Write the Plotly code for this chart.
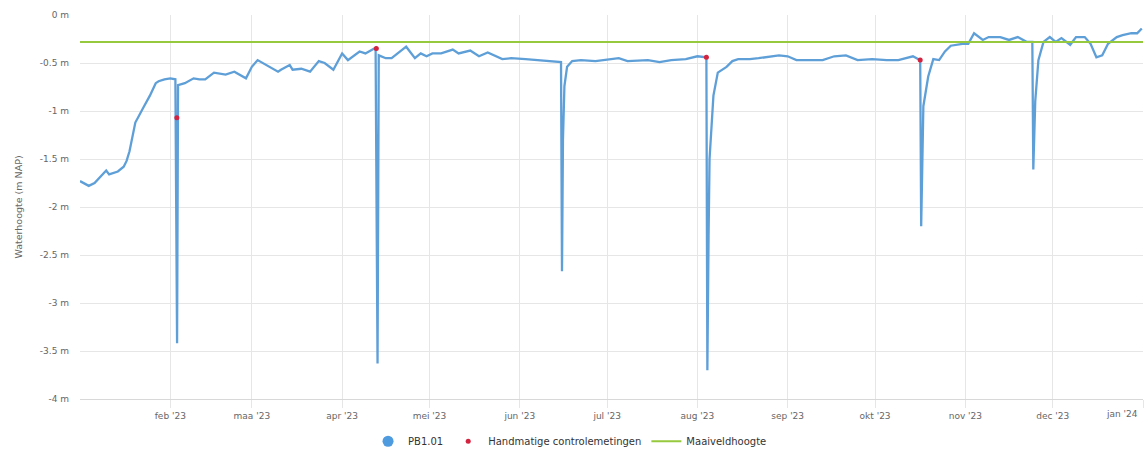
import plotly.graph_objects as go

# PB1.01 logger readings (timestamp, water level in m NAP)
pb_dates = [
    "2023-01-01", "2023-01-04", "2023-01-06", "2023-01-07", "2023-01-10", "2023-01-11",
    "2023-01-14", "2023-01-16", "2023-01-17", "2023-01-18", "2023-01-20", "2023-01-23",
    "2023-01-25", "2023-01-27", "2023-01-28", "2023-01-30", "2023-02-01", "2023-02-02 18:00",
    "2023-02-03 08:00", "2023-02-03 16:00", "2023-02-06", "2023-02-09", "2023-02-11", "2023-02-13",
    "2023-02-16", "2023-02-20", "2023-02-23", "2023-02-27", "2023-03-01", "2023-03-03",
    "2023-03-06", "2023-03-10", "2023-03-11", "2023-03-14", "2023-03-15", "2023-03-18",
    "2023-03-21", "2023-03-24", "2023-03-26", "2023-03-29", "2023-04-01", "2023-04-03",
    "2023-04-07", "2023-04-09", "2023-04-12 12:00", "2023-04-13 04:00", "2023-04-13 14:00", "2023-04-16",
    "2023-04-18", "2023-04-22", "2023-04-23", "2023-04-26", "2023-04-28", "2023-04-30",
    "2023-05-02", "2023-05-05", "2023-05-09", "2023-05-11", "2023-05-15", "2023-05-18",
    "2023-05-21", "2023-05-26", "2023-05-29", "2023-06-03", "2023-06-08", "2023-06-13",
    "2023-06-15 04:00", "2023-06-15 12:00", "2023-06-15 20:00", "2023-06-16 08:00", "2023-06-17 06:00", "2023-06-19",
    "2023-06-22", "2023-06-27", "2023-06-30", "2023-07-05", "2023-07-08", "2023-07-12",
    "2023-07-15", "2023-07-19", "2023-07-23", "2023-07-28", "2023-08-01", "2023-08-04 02:00",
    "2023-08-04 10:00", "2023-08-04 20:00", "2023-08-05 04:00", "2023-08-06 12:00", "2023-08-08", "2023-08-11",
    "2023-08-13", "2023-08-15", "2023-08-19", "2023-08-22", "2023-08-26", "2023-08-29",
    "2023-09-01", "2023-09-04", "2023-09-07", "2023-09-13", "2023-09-17", "2023-09-21",
    "2023-09-25", "2023-09-30", "2023-10-05", "2023-10-09", "2023-10-14", "2023-10-16 12:00",
    "2023-10-16 20:00", "2023-10-17 04:00", "2023-10-17 14:00", "2023-10-19 06:00", "2023-10-21", "2023-10-23",
    "2023-10-25", "2023-10-27", "2023-10-31", "2023-11-02", "2023-11-04", "2023-11-07",
    "2023-11-09", "2023-11-13", "2023-11-16", "2023-11-19", "2023-11-22", "2023-11-23",
    "2023-11-24 00:00", "2023-11-24 08:00", "2023-11-25 00:00", "2023-11-26 02:00", "2023-11-27 20:00", "2023-11-30",
    "2023-12-02", "2023-12-04", "2023-12-07", "2023-12-09", "2023-12-12", "2023-12-14",
    "2023-12-16", "2023-12-18", "2023-12-20", "2023-12-23", "2023-12-25", "2023-12-28",
    "2023-12-30", "2023-12-31 14:00",
]
pb_levels = [
    -1.73, -1.78, -1.75, -1.72, -1.62, -1.66,
    -1.63, -1.58, -1.52, -1.42, -1.12, -0.95,
    -0.84, -0.71, -0.69, -0.67, -0.66, -0.67,
    -3.42, -0.73, -0.71, -0.66, -0.67, -0.67,
    -0.60, -0.62, -0.59, -0.66, -0.54, -0.47,
    -0.52, -0.59, -0.57, -0.52, -0.57, -0.56,
    -0.59, -0.48, -0.50, -0.57, -0.40, -0.47,
    -0.38, -0.40, -0.34, -3.63, -0.42, -0.45,
    -0.45, -0.36, -0.33, -0.45, -0.40, -0.43,
    -0.40, -0.40, -0.36, -0.40, -0.37, -0.43,
    -0.39, -0.46, -0.45, -0.46, -0.47, -0.48,
    -0.49, -2.67, -1.30, -0.74, -0.54, -0.48,
    -0.47, -0.48, -0.47, -0.45, -0.48, -0.47,
    -0.47, -0.49, -0.47, -0.46, -0.43, -0.44,
    -3.70, -2.30, -1.50, -0.84, -0.60, -0.54,
    -0.48, -0.46, -0.46, -0.45, -0.43, -0.42,
    -0.43, -0.47, -0.47, -0.47, -0.43, -0.42,
    -0.47, -0.46, -0.47, -0.47, -0.43, -0.47,
    -2.20, -1.50, -0.95, -0.64, -0.46, -0.47,
    -0.38, -0.32, -0.30, -0.30, -0.19, -0.26,
    -0.23, -0.23, -0.26, -0.23, -0.28, -0.28,
    -0.28, -1.61, -0.90, -0.47, -0.28, -0.23,
    -0.28, -0.24, -0.31, -0.23, -0.23, -0.30,
    -0.44, -0.42, -0.30, -0.23, -0.21, -0.19,
    -0.19, -0.14,
]

# Manual control measurements
ctrl_dates = ["2023-02-03 06:00", "2023-04-12 18:00", "2023-08-04 02:00", "2023-10-16 12:00"]
ctrl_levels = [-1.07, -0.35, -0.44, -0.47]

# Ground level (maaiveld)
maaiveld_dates = ["2023-01-01", "2024-01-01"]
maaiveld_levels = [-0.28, -0.28]

# Axis ticks
month_ticks = ["2023-02-01", "2023-03-01", "2023-04-01", "2023-05-01", "2023-06-01", "2023-07-01",
               "2023-08-01", "2023-09-01", "2023-10-01", "2023-11-01", "2023-12-01", "2024-01-01"]
month_labels = ["feb '23", "maa '23", "apr '23", "mei '23", "jun '23", "jul '23",
                "aug '23", "sep '23", "okt '23", "nov '23", "dec '23", ""]
last_month_label = "jan '24"
level_ticks = [0, -0.5, -1, -1.5, -2, -2.5, -3, -3.5, -4]
level_labels = ["0 m", "-0.5 m", "-1 m", "-1.5 m", "-2 m", "-2.5 m", "-3 m", "-3.5 m", "-4 m"]

FONT = "DejaVu Sans"
BLUE = "#5f9fd8"
RED = "#d3233f"
GREEN = "#96c93d"
GRID = "#e6e6e6"

fig = go.Figure()

fig.add_trace(go.Scatter(
    x=pb_dates, y=pb_levels, mode="lines", name="PB1.01",
    line=dict(color=BLUE, width=2.3), legendgroup="pb", showlegend=False,
))
# legend entry drawn as a circle symbol
fig.add_trace(go.Scatter(
    x=[None], y=[None], mode="markers", name="PB1.01",
    marker=dict(color="#4f9be0", size=11), legendgroup="pb",
))
fig.add_trace(go.Scatter(
    x=ctrl_dates, y=ctrl_levels, mode="markers", name="Handmatige controlemetingen",
    marker=dict(color=RED, size=5),
))
fig.add_trace(go.Scatter(
    x=maaiveld_dates, y=maaiveld_levels, mode="lines", name="Maaiveldhoogte",
    line=dict(color=GREEN, width=2),
))

fig.update_layout(
    width=1148, height=461,
    margin=dict(l=80, r=5, t=15, b=57),
    paper_bgcolor="white", plot_bgcolor="white",
    font=dict(family=FONT, size=9, color="#666666"),
    showlegend=True,
    legend=dict(
        orientation="h", x=0.461, xanchor="center", y=-0.11, yanchor="middle",
        font=dict(family=FONT, size=10, color="#333333"),
        itemwidth=30, tracegroupgap=0,
    ),
    xaxis=dict(
        type="date", range=["2023-01-01", "2024-01-01"],
        tickmode="array", tickvals=month_ticks, ticktext=month_labels,
        showgrid=True, gridcolor=GRID, gridwidth=1,
        ticks="outside", ticklen=8, tickcolor=GRID,
        showline=True, linecolor="#d8d8d8", linewidth=1,
        zeroline=False,
        tickfont=dict(family=FONT, size=9, color="#666666"),
    ),
    yaxis=dict(
        range=[-4, 0], tickmode="array", tickvals=level_ticks, ticktext=level_labels,
        showgrid=True, gridcolor=GRID, gridwidth=1, zeroline=False, showline=False,
        ticks="", ticklabelstandoff=10,
        tickfont=dict(family=FONT, size=9, color="#666666"),
        title=dict(text="Waterhoogte (m NAP)", standoff=15,
                   font=dict(family=FONT, size=9.5, color="#666666")),
    ),
    annotations=[dict(
        text=last_month_label, xref="paper", yref="paper", x=1, y=0,
        xanchor="right", yanchor="top", xshift=-3, yshift=-8, showarrow=False,
        font=dict(family=FONT, size=9, color="#666666"),
    )],
)

fig.write_html("out.html")
